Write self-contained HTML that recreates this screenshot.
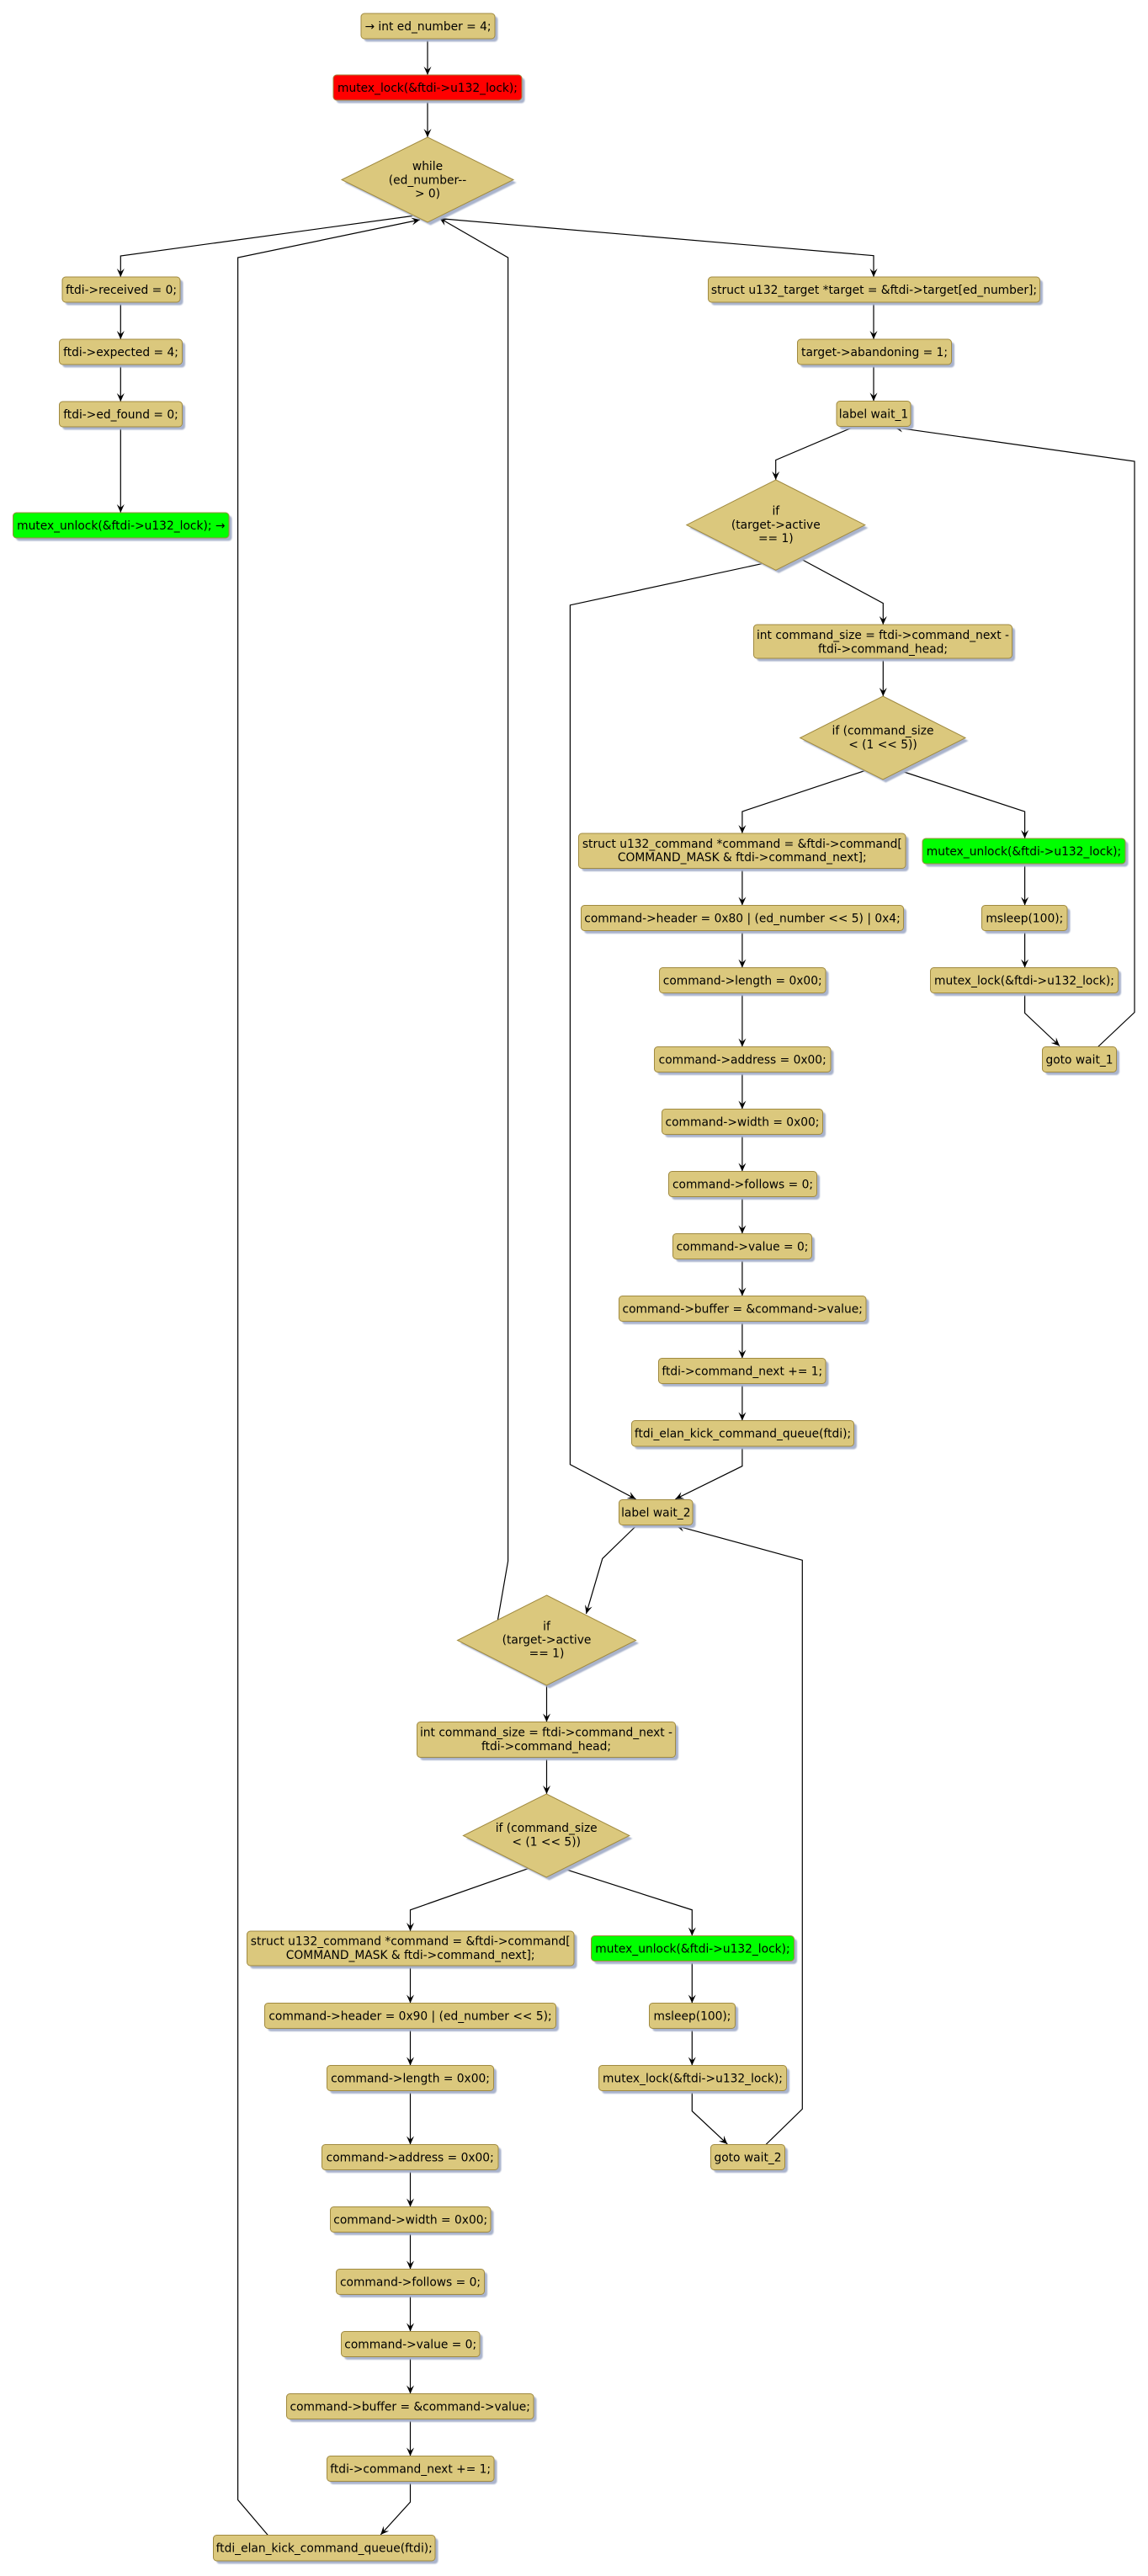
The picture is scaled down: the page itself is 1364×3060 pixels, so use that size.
<!DOCTYPE html>
<html>
<head>
<meta charset="utf-8">
<style>
html,body{margin:0;padding:0;background:#fff;}
svg{display:block;}
.b{fill:#dbc87d;stroke:#a08a40;stroke-width:1;}
.g{fill:#00ff00;stroke:#a08a40;stroke-width:1;}
.r{fill:#ff0000;stroke:#a08a40;stroke-width:1;}
.s{fill:#a9b3cc;}
.e{fill:none;stroke:#000;stroke-width:1.2;}
text{font-family:"DejaVu Sans","Liberation Sans",sans-serif;font-size:13.8px;fill:#000;text-anchor:middle;}
</style>
</head>
<body>
<svg width="1364" height="3060" viewBox="0 0 1364 3060" xmlns="http://www.w3.org/2000/svg">
<defs>
<marker id="a" markerUnits="userSpaceOnUse" markerWidth="14" markerHeight="12" viewBox="-12 -6 14 12" refX="0" refY="0" orient="auto">
<path d="M0,0 L-10,-4.5 L-6,0 L-10,4.5 Z" fill="#000"/>
</marker>
<filter id="bl" x="-10%" y="-10%" width="120%" height="130%"><feGaussianBlur stdDeviation="0.8"/></filter>
</defs>

<!-- ================= EDGES ================= -->
<g class="edges">
<polyline class="e" points="508,45.5 508,89" marker-end="url(#a)"/>
<polyline class="e" points="508,119.5 508,163" marker-end="url(#a)"/>
<polyline class="e" points="490,256.5 143.3,304 143.3,329" marker-end="url(#a)"/>
<polyline class="e" points="143.3,359 143.3,403" marker-end="url(#a)"/>
<polyline class="e" points="143.3,433 143.3,477" marker-end="url(#a)"/>
<polyline class="e" points="143.3,507 143.3,609" marker-end="url(#a)"/>
<polyline class="e" points="527,260 1038,303.7 1038,329" marker-end="url(#a)"/>
<polyline class="e" points="1038,359 1038,403" marker-end="url(#a)"/>
<polyline class="e" points="1038,433 1038,476.5" marker-end="url(#a)"/>
<polyline class="e" points="1015.8,506.5 921.7,546.5 921.7,570" marker-end="url(#a)"/>
<polyline class="e" points="949.7,663 1049.3,716.6 1049.3,742" marker-end="url(#a)"/>
<polyline class="e" points="905,669.7 677.4,718.8 677.4,1739.7 755.5,1780.8" marker-end="url(#a)"/>
<polyline class="e" points="1049.3,782 1049.3,827" marker-end="url(#a)"/>
<polyline class="e" points="1029,915 881.9,964 881.9,990" marker-end="url(#a)"/>
<polyline class="e" points="1068,915 1217.6,964 1217.6,996" marker-end="url(#a)"/>
<polyline class="e" points="881.9,1031.5 881.9,1075.5" marker-end="url(#a)"/>
<polyline class="e" points="881.9,1105.5 881.9,1149.5" marker-end="url(#a)"/>
<polyline class="e" points="881.9,1179.5 881.9,1243.5" marker-end="url(#a)"/>
<polyline class="e" points="881.9,1273.5 881.9,1317.5" marker-end="url(#a)"/>
<polyline class="e" points="881.9,1347.5 881.9,1391.5" marker-end="url(#a)"/>
<polyline class="e" points="881.9,1421.5 881.9,1465.5" marker-end="url(#a)"/>
<polyline class="e" points="881.9,1495.5 881.9,1539.5" marker-end="url(#a)"/>
<polyline class="e" points="881.9,1569.5 881.9,1613.5" marker-end="url(#a)"/>
<polyline class="e" points="881.9,1643.5 881.9,1687.5" marker-end="url(#a)"/>
<polyline class="e" points="881.9,1718 881.9,1741.6 802.4,1780.8" marker-end="url(#a)"/>
<polyline class="e" points="1217.6,1026 1217.6,1075.5" marker-end="url(#a)"/>
<polyline class="e" points="1217.6,1105.5 1217.6,1149.5" marker-end="url(#a)"/>
<polyline class="e" points="1217.6,1179.5 1217.6,1203.4 1259,1242.5" marker-end="url(#a)"/>
<polyline class="e" points="1304.6,1243.5 1348,1202.5 1348,548 1062.7,507.7" marker-end="url(#a)"/>
<polyline class="e" points="756.9,1811.5 715.8,1851.4 696.5,1917" marker-end="url(#a)"/>
<polyline class="e" points="591.5,1924 603.6,1854.5 603.6,306 522,259" marker-end="url(#a)"/>
<polyline class="e" points="649.5,2002 649.5,2045.5" marker-end="url(#a)"/>
<polyline class="e" points="649.5,2087.5 649.5,2131" marker-end="url(#a)"/>
<polyline class="e" points="627.7,2219.6 487.5,2268.75 487.5,2294" marker-end="url(#a)"/>
<polyline class="e" points="668.75,2219.6 822.3,2268.75 822.3,2299.5" marker-end="url(#a)"/>
<polyline class="e" points="487.5,2335 487.5,2379.5" marker-end="url(#a)"/>
<polyline class="e" points="487.5,2409.5 487.5,2453.5" marker-end="url(#a)"/>
<polyline class="e" points="487.5,2483.5 487.5,2547.5" marker-end="url(#a)"/>
<polyline class="e" points="487.5,2577.5 487.5,2621.5" marker-end="url(#a)"/>
<polyline class="e" points="487.5,2651.5 487.5,2695.5" marker-end="url(#a)"/>
<polyline class="e" points="487.5,2725.5 487.5,2769.5" marker-end="url(#a)"/>
<polyline class="e" points="487.5,2799.5 487.5,2843.5" marker-end="url(#a)"/>
<polyline class="e" points="487.5,2873.5 487.5,2917.5" marker-end="url(#a)"/>
<polyline class="e" points="487.5,2947.5 487.5,2972.2 452.2,3011" marker-end="url(#a)"/>
<polyline class="e" points="318.3,3011.5 282.6,2969.5 282.6,306 499,261" marker-end="url(#a)"/>
<polyline class="e" points="822.3,2329.5 822.3,2379.5" marker-end="url(#a)"/>
<polyline class="e" points="822.3,2409.5 822.3,2453.5" marker-end="url(#a)"/>
<polyline class="e" points="822.3,2483.5 822.3,2507.7 864.3,2547" marker-end="url(#a)"/>
<polyline class="e" points="910,2547.5 953.3,2505.3 953.3,1853.3 803.3,1812.4" marker-end="url(#a)"/>
</g>

<!-- ================= SHADOWS ================= -->
<g class="s" filter="url(#bl)">
<rect x="432.5" y="19.5" width="159" height="30" rx="4"/>
<rect x="399.5" y="92.5" width="224" height="30" rx="4"/>
<polygon points="511.5,166.5 613.5,217 511.5,267.5 409.5,217"/>
<rect x="77.5" y="332.5" width="140" height="30" rx="4"/>
<rect x="74" y="406.5" width="146" height="30" rx="4"/>
<rect x="74" y="480.5" width="146" height="30" rx="4"/>
<rect x="19" y="612.5" width="256.5" height="30" rx="4"/>
<rect x="845" y="332.5" width="394" height="30" rx="4"/>
<rect x="951" y="406.5" width="183" height="30" rx="4"/>
<rect x="997.5" y="480" width="88" height="30" rx="4"/>
<polygon points="925.3,573.5 1031.3,627.1 925.3,680.8 819.3,627.1"/>
<rect x="899" y="745.5" width="307" height="40" rx="4"/>
<polygon points="1052.5,830.5 1150.5,880 1052.5,929.5 954.1,880"/>
<rect x="691" y="993.5" width="388.5" height="41.5" rx="4"/>
<rect x="694" y="1079" width="383" height="30" rx="4"/>
<rect x="787" y="1153" width="197.5" height="30" rx="4"/>
<rect x="781" y="1247" width="209.5" height="30" rx="4"/>
<rect x="790" y="1321" width="191" height="30" rx="4"/>
<rect x="798" y="1395" width="176" height="30" rx="4"/>
<rect x="803" y="1469" width="165" height="30" rx="4"/>
<rect x="739" y="1543" width="293.5" height="30" rx="4"/>
<rect x="786" y="1617" width="198.5" height="30" rx="4"/>
<rect x="754" y="1691" width="264" height="30.5" rx="4"/>
<rect x="1099.5" y="999.5" width="241" height="30" rx="4"/>
<rect x="1170" y="1079" width="101.5" height="30" rx="4"/>
<rect x="1109" y="1153" width="223" height="30" rx="4"/>
<rect x="1242" y="1247" width="88" height="30" rx="4"/>
<rect x="739" y="1785" width="87.5" height="30" rx="4"/>
<polygon points="653,1898.5 759,1952 653,2005.5 547,1952"/>
<rect x="499" y="2049" width="307" height="42" rx="4"/>
<polygon points="652.7,2134.5 751.3,2184 652.7,2233.5 553.9,2184"/>
<rect x="297" y="2297.5" width="388.5" height="41" rx="4"/>
<rect x="318" y="2383" width="346" height="30" rx="4"/>
<rect x="392" y="2457" width="198" height="30" rx="4"/>
<rect x="386" y="2551" width="209.5" height="30" rx="4"/>
<rect x="396" y="2625" width="190.5" height="30" rx="4"/>
<rect x="403" y="2699" width="176" height="30" rx="4"/>
<rect x="409" y="2773" width="164.5" height="30" rx="4"/>
<rect x="344" y="2847" width="293.5" height="30" rx="4"/>
<rect x="392" y="2921" width="198.5" height="30" rx="4"/>
<rect x="257" y="3015" width="263.5" height="30.5" rx="4"/>
<rect x="706" y="2303" width="241" height="30" rx="4"/>
<rect x="775" y="2383" width="102" height="30" rx="4"/>
<rect x="715" y="2457" width="223" height="30" rx="4"/>
<rect x="848" y="2551" width="88" height="30" rx="4"/>
</g>

<!-- ================= NODES ================= -->
<g>
<rect class="b" x="429" y="16" width="159" height="30" rx="4"/>
<text x="508.5" y="36">→ int ed_number = 4;</text>

<rect class="r" x="396" y="89" width="224" height="30" rx="4"/>
<text x="508" y="109">mutex_lock(&amp;ftdi-&gt;u132_lock);</text>

<polygon class="b" points="508,163 610,213.5 508,264 406,213.5"/>
<text x="508" y="202">while</text>
<text x="508" y="218.5">(ed_number--</text>
<text x="508" y="234.5">&gt; 0)</text>

<rect class="b" x="74" y="329" width="140" height="30" rx="4"/>
<text x="144" y="349">ftdi-&gt;received = 0;</text>
<rect class="b" x="70.5" y="403" width="146" height="30" rx="4"/>
<text x="143.5" y="423">ftdi-&gt;expected = 4;</text>
<rect class="b" x="70.5" y="477" width="146" height="30" rx="4"/>
<text x="143.5" y="497">ftdi-&gt;ed_found = 0;</text>
<rect class="g" x="15.5" y="609" width="256.5" height="30" rx="4"/>
<text x="143.8" y="629">mutex_unlock(&amp;ftdi-&gt;u132_lock); →</text>

<rect class="b" x="841.5" y="329" width="394" height="30" rx="4"/>
<text x="1038.5" y="349">struct u132_target *target = &amp;ftdi-&gt;target[ed_number];</text>
<rect class="b" x="947.5" y="403" width="183" height="30" rx="4"/>
<text x="1039" y="423">target-&gt;abandoning = 1;</text>
<rect class="b" x="994" y="476.5" width="88" height="30" rx="4"/>
<text x="1038" y="496.5">label wait_1</text>

<polygon class="b" points="921.8,570 1027.8,623.6 921.8,677.3 815.8,623.6"/>
<text x="921.8" y="611.6">if</text>
<text x="921.8" y="627.8">(target-&gt;active</text>
<text x="921.8" y="644">== 1)</text>

<rect class="b" x="895.5" y="742" width="307" height="40" rx="4"/>
<text x="1049" y="759">int command_size = ftdi-&gt;command_next -</text>
<text x="1049" y="775.5">ftdi-&gt;command_head;</text>

<polygon class="b" points="1049,827 1147,876.5 1049,926 950.6,876.5"/>
<text x="1049" y="872.5">if (command_size</text>
<text x="1049" y="889">&lt; (1 &lt;&lt; 5))</text>

<rect class="b" x="687.5" y="990" width="388.5" height="41.5" rx="4"/>
<text x="881.8" y="1006.8">struct u132_command *command = &amp;ftdi-&gt;command[</text>
<text x="881.8" y="1023.2">COMMAND_MASK &amp; ftdi-&gt;command_next];</text>
<rect class="b" x="690.5" y="1075.5" width="383" height="30" rx="4"/>
<text x="882" y="1095.5">command-&gt;header = 0x80 | (ed_number &lt;&lt; 5) | 0x4;</text>
<rect class="b" x="783.5" y="1149.5" width="197.5" height="30" rx="4"/>
<text x="882.2" y="1169.5">command-&gt;length = 0x00;</text>
<rect class="b" x="777.5" y="1243.5" width="209.5" height="30" rx="4"/>
<text x="882.2" y="1263.5">command-&gt;address = 0x00;</text>
<rect class="b" x="786.5" y="1317.5" width="191" height="30" rx="4"/>
<text x="882" y="1337.5">command-&gt;width = 0x00;</text>
<rect class="b" x="794.5" y="1391.5" width="176" height="30" rx="4"/>
<text x="882.5" y="1411.5">command-&gt;follows = 0;</text>
<rect class="b" x="799.5" y="1465.5" width="165" height="30" rx="4"/>
<text x="882" y="1485.5">command-&gt;value = 0;</text>
<rect class="b" x="735.5" y="1539.5" width="293.5" height="30" rx="4"/>
<text x="882.2" y="1559.5">command-&gt;buffer = &amp;command-&gt;value;</text>
<rect class="b" x="782.5" y="1613.5" width="198.5" height="30" rx="4"/>
<text x="881.8" y="1633.5">ftdi-&gt;command_next += 1;</text>
<rect class="b" x="750.5" y="1687.5" width="264" height="30.5" rx="4"/>
<text x="882.5" y="1707.5">ftdi_elan_kick_command_queue(ftdi);</text>

<rect class="g" x="1096" y="996" width="241" height="30" rx="4"/>
<text x="1216.5" y="1016">mutex_unlock(&amp;ftdi-&gt;u132_lock);</text>
<rect class="b" x="1166.5" y="1075.5" width="101.5" height="30" rx="4"/>
<text x="1217.3" y="1095.5">msleep(100);</text>
<rect class="b" x="1105.5" y="1149.5" width="223" height="30" rx="4"/>
<text x="1217" y="1169.5">mutex_lock(&amp;ftdi-&gt;u132_lock);</text>
<rect class="b" x="1238.5" y="1243.5" width="88" height="30" rx="4"/>
<text x="1282.5" y="1263.5">goto wait_1</text>

<rect class="b" x="735.5" y="1781.5" width="87.5" height="30" rx="4"/>
<text x="779.3" y="1801.5">label wait_2</text>

<polygon class="b" points="649.5,1895 755.5,1948.5 649.5,2002 543.5,1948.5"/>
<text x="649.5" y="1936.5">if</text>
<text x="649.5" y="1952.5">(target-&gt;active</text>
<text x="649.5" y="1968.5">== 1)</text>

<rect class="b" x="495.5" y="2045.5" width="307" height="42" rx="4"/>
<text x="649" y="2062.5">int command_size = ftdi-&gt;command_next -</text>
<text x="649" y="2079">ftdi-&gt;command_head;</text>

<polygon class="b" points="649.2,2131 747.8,2180.5 649.2,2230 550.4,2180.5"/>
<text x="649.2" y="2176">if (command_size</text>
<text x="649.2" y="2192.5">&lt; (1 &lt;&lt; 5))</text>

<rect class="b" x="293.5" y="2294" width="388.5" height="41" rx="4"/>
<text x="487.7" y="2310.5">struct u132_command *command = &amp;ftdi-&gt;command[</text>
<text x="487.7" y="2327">COMMAND_MASK &amp; ftdi-&gt;command_next];</text>
<rect class="b" x="314.5" y="2379.5" width="346" height="30" rx="4"/>
<text x="487.5" y="2399.5">command-&gt;header = 0x90 | (ed_number &lt;&lt; 5);</text>
<rect class="b" x="388.5" y="2453.5" width="198" height="30" rx="4"/>
<text x="487.5" y="2473.5">command-&gt;length = 0x00;</text>
<rect class="b" x="382.5" y="2547.5" width="209.5" height="30" rx="4"/>
<text x="487.2" y="2567.5">command-&gt;address = 0x00;</text>
<rect class="b" x="392.5" y="2621.5" width="190.5" height="30" rx="4"/>
<text x="487.7" y="2641.5">command-&gt;width = 0x00;</text>
<rect class="b" x="399.5" y="2695.5" width="176" height="30" rx="4"/>
<text x="487.5" y="2715.5">command-&gt;follows = 0;</text>
<rect class="b" x="405.5" y="2769.5" width="164.5" height="30" rx="4"/>
<text x="487.7" y="2789.5">command-&gt;value = 0;</text>
<rect class="b" x="340.5" y="2843.5" width="293.5" height="30" rx="4"/>
<text x="487.2" y="2863.5">command-&gt;buffer = &amp;command-&gt;value;</text>
<rect class="b" x="388.5" y="2917.5" width="198.5" height="30" rx="4"/>
<text x="487.7" y="2937.5">ftdi-&gt;command_next += 1;</text>
<rect class="b" x="253.5" y="3011.5" width="263.5" height="30.5" rx="4"/>
<text x="385.2" y="3031.5">ftdi_elan_kick_command_queue(ftdi);</text>

<rect class="g" x="702.5" y="2299.5" width="241" height="30" rx="4"/>
<text x="823" y="2319.5">mutex_unlock(&amp;ftdi-&gt;u132_lock);</text>
<rect class="b" x="771.5" y="2379.5" width="102" height="30" rx="4"/>
<text x="822.5" y="2399.5">msleep(100);</text>
<rect class="b" x="711.5" y="2453.5" width="223" height="30" rx="4"/>
<text x="823" y="2473.5">mutex_lock(&amp;ftdi-&gt;u132_lock);</text>
<rect class="b" x="844.5" y="2547.5" width="88" height="30" rx="4"/>
<text x="888.5" y="2567.5">goto wait_2</text>
</g>
</svg>
</body>
</html>
